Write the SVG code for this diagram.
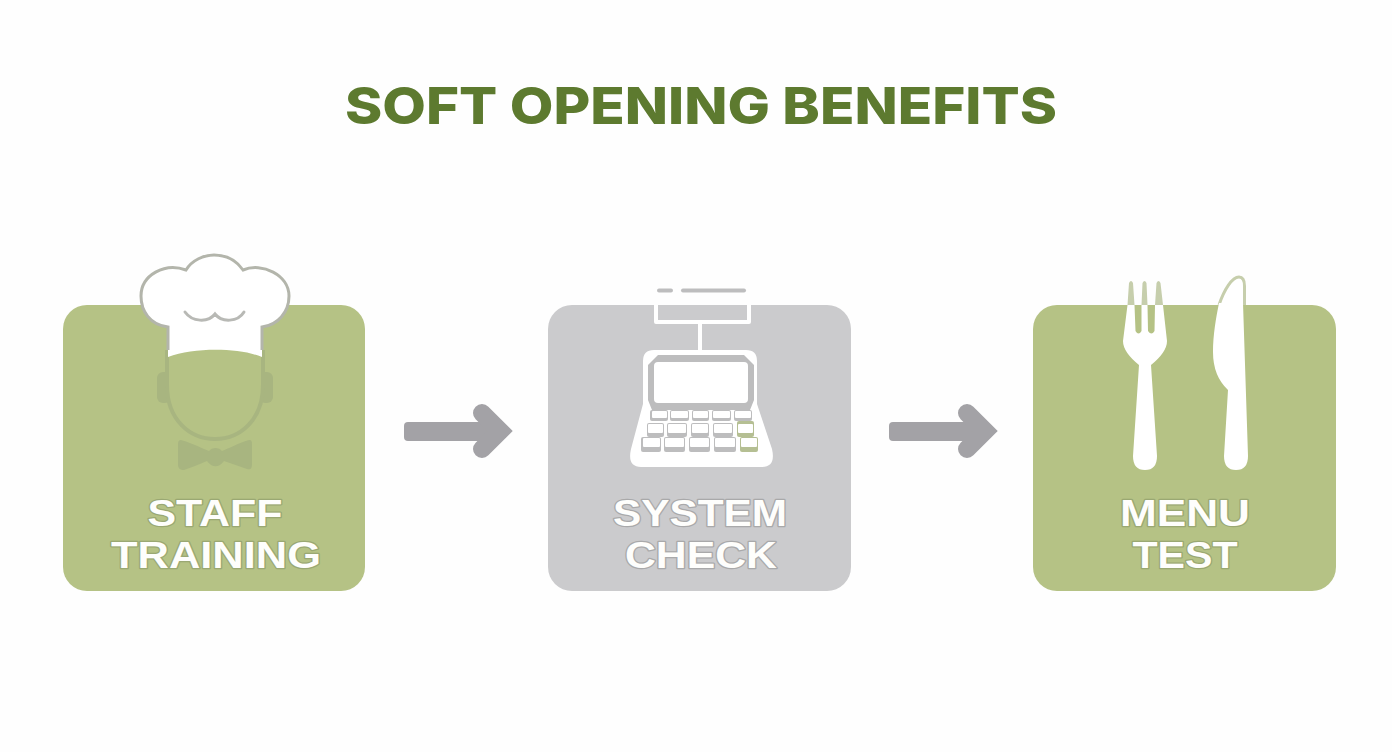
<svg xmlns="http://www.w3.org/2000/svg" width="1392" height="752" viewBox="0 0 1392 752">
<style>
.lbl{font-family:"Liberation Sans",Arial,sans-serif;font-weight:700;font-size:37.500px;text-anchor:middle;fill:#fefefc;stroke-width:2.500px;paint-order:stroke;stroke-linejoin:round}
.g{stroke:#9aa873}.s{stroke:#a9a9aa}
.arrow{fill:none;stroke:#a3a2a6;stroke-width:18;stroke-linecap:round;stroke-linejoin:miter}
.k{fill:#fff}.ks{fill:#bdbdbe}.kg{fill:#b5bf93}
</style>
<rect width="1392" height="752" fill="#fefefe"/>
<text id="title" x="701" y="124" font-family="Inter,'Liberation Sans',sans-serif" font-weight="800" font-size="51" fill="#5d7a2f" text-anchor="middle" textLength="712" lengthAdjust="spacingAndGlyphs">SOFT OPENING BENEFITS</text>
<g id="connectors">
<rect x="404" y="422" width="96" height="19" rx="4" fill="#a3a2a6"/>
<path class="arrow" d="M482 413L500 431L482 449"/>
<rect x="889" y="422" width="96" height="19" rx="4" fill="#a3a2a6"/>
<path class="arrow" d="M967 413L985 431L967 449"/>
</g>
<g id="staff-training">
<rect x="63" y="305" width="302" height="286" rx="24" fill="#b5c285"/>
<rect x="157" y="372" width="14" height="31" rx="6" fill="#a8b580"/>
<rect x="259" y="372" width="14" height="31" rx="6" fill="#a8b580"/>
<path d="M167 350V385C167 420 190 439 215 439C240 439 263 420 263 385V350" fill="#b5c285" stroke="#a8b580" stroke-width="4"/>
<path d="M181 440C195 444 203 449 209 451C212 447 219 447 222 451C228 449 238 443 249 440C252 440 252 442 252 445V464C252 469 250 470 247 469L224 461C219 468 212 468 207 461C198 465 190 468 184 470C180 470 178 468 178 465V444C178 441 179 440 181 440Z" fill="#a8b580"/>
<path d="M168 357V327C150 325 141 311 141 296C141 275 165 262 186 270C192 260 204 255 214 255C226 255 236 260 243 270C262 262 289 275 289 296C289 312 278 325 262 327V357C240 348 195 347 168 357Z" fill="#fff"/>
<path d="M168 350V327C150 325 141 311 141 296C141 275 165 262 186 270C192 260 204 255 214 255C226 255 236 260 243 270C262 262 289 275 289 296C289 312 278 325 262 327V350" fill="none" stroke="#b3b5ab" stroke-width="3"/>
<path d="M185 312C192 322 208 323 215 314C222 323 238 322 244 312" fill="none" stroke="#b8b9b5" stroke-width="3" stroke-linecap="round"/>
<text class="lbl g" x="215" y="526" textLength="135" lengthAdjust="spacingAndGlyphs">STAFF</text>
<text class="lbl g" x="216" y="568" textLength="210" lengthAdjust="spacingAndGlyphs">TRAINING</text>
</g>
<g id="system-check">
<rect x="548" y="305" width="303" height="286" rx="24" fill="#cbcbcd"/>
<path d="M656 305V322H749V305" fill="none" stroke="#fff" stroke-width="4" stroke-linejoin="round"/>
<rect x="657" y="288.500" width="16" height="4" rx="2" fill="#bdbdbe"/>
<rect x="681" y="288.500" width="65" height="4" rx="2" fill="#bdbdbe"/>
<rect x="698" y="324" width="4" height="28" fill="#fff"/>
<path d="M654 350H746Q757 350 757 361V404L772 449Q776 467 762 467H641Q627 467 631 449L643 404V361Q643 350 654 350Z" fill="#fff"/>
<path d="M658 355H744L754 365V400L750 410H652L648 400V365Z" fill="#bdbdbe"/>
<rect x="654" y="362" width="94" height="41" rx="4" fill="#fff"/>
<g>
<rect class="ks" x="650" y="410" width="18" height="11" rx="2"/><rect class="ks" x="670" y="410" width="19" height="11" rx="2"/><rect class="ks" x="692" y="410" width="17" height="11" rx="2"/><rect class="ks" x="712" y="410" width="19" height="11" rx="2"/><rect class="ks" x="734" y="410" width="18" height="11" rx="2"/>
<rect class="k" x="652" y="411" width="15" height="7" rx="1"/><rect class="k" x="671" y="411" width="17" height="7" rx="1"/><rect class="k" x="693" y="411" width="15" height="7" rx="1"/><rect class="k" x="713" y="411" width="17" height="7" rx="1"/><rect class="k" x="735" y="411" width="16" height="7" rx="1"/>
<rect class="ks" x="647" y="423" width="17" height="14" rx="2"/><rect class="ks" x="667" y="423" width="20" height="14" rx="2"/><rect class="ks" x="691" y="423" width="18" height="14" rx="2"/><rect class="ks" x="713" y="423" width="20" height="14" rx="2"/><rect class="kg" x="737" y="421" width="17" height="16" rx="2"/>
<rect class="k" x="648" y="424" width="15" height="9" rx="1"/><rect class="k" x="668" y="424" width="18" height="9" rx="1"/><rect class="k" x="692" y="424" width="16" height="9" rx="1"/><rect class="k" x="714" y="424" width="18" height="9" rx="1"/><rect class="k" x="738" y="424" width="15" height="9" rx="1"/>
<rect class="ks" x="641" y="437" width="20" height="15" rx="2"/><rect class="ks" x="664" y="437" width="21" height="15" rx="2"/><rect class="ks" x="689" y="437" width="21" height="15" rx="2"/><rect class="ks" x="714" y="437" width="22" height="15" rx="2"/><rect class="kg" x="740" y="437" width="18" height="15" rx="2"/>
<rect class="k" x="643" y="438" width="17" height="9" rx="1"/><rect class="k" x="665" y="438" width="19" height="9" rx="1"/><rect class="k" x="690" y="438" width="19" height="9" rx="1"/><rect class="k" x="715" y="438" width="20" height="9" rx="1"/><rect class="k" x="741" y="438" width="16" height="9" rx="1"/>
</g>
<text class="lbl s" x="700" y="526" textLength="174" lengthAdjust="spacingAndGlyphs">SYSTEM</text>
<text class="lbl s" x="701" y="568" textLength="152" lengthAdjust="spacingAndGlyphs">CHECK</text>
</g>
<g id="menu-test">
<rect x="1033" y="305" width="303" height="286" rx="24" fill="#b5c285"/>
<path d="M1127.500 305L1129 283Q1131 279 1133 283L1134.500 305ZM1141.500 305L1142.500 283Q1144.500 279 1146.500 283L1147.500 305ZM1155 305L1156.500 283Q1158.500 279 1160.500 283L1163 305Z" fill="#c6ceac"/>
<path d="M1127.500 305H1134.500L1135.500 331Q1138.500 336 1141.500 331L1141.500 305H1147.500L1148 331Q1151.500 336 1154.500 331L1155 305H1163L1167 341Q1167 352 1151 365L1157 456Q1157 470 1145 470Q1133 470 1133 456L1139 365Q1123 352 1123 341Z" fill="#fff"/>
<path d="M1219 305C1224 290 1232 277 1239 277C1243 277 1244.500 280 1244.500 286V305" fill="#fff" stroke="#c6ceac" stroke-width="3"/>
<path d="M1219 303H1243L1248 456Q1248 470 1236 470Q1224 470 1224 456L1228 390Q1213 376 1213 352C1213 335 1216 318 1219 303Z" fill="#fff"/>
<text class="lbl g" x="1185" y="526" textLength="130" lengthAdjust="spacingAndGlyphs">MENU</text>
<text class="lbl g" x="1185" y="568" textLength="105" lengthAdjust="spacingAndGlyphs">TEST</text>
</g>
</svg>
